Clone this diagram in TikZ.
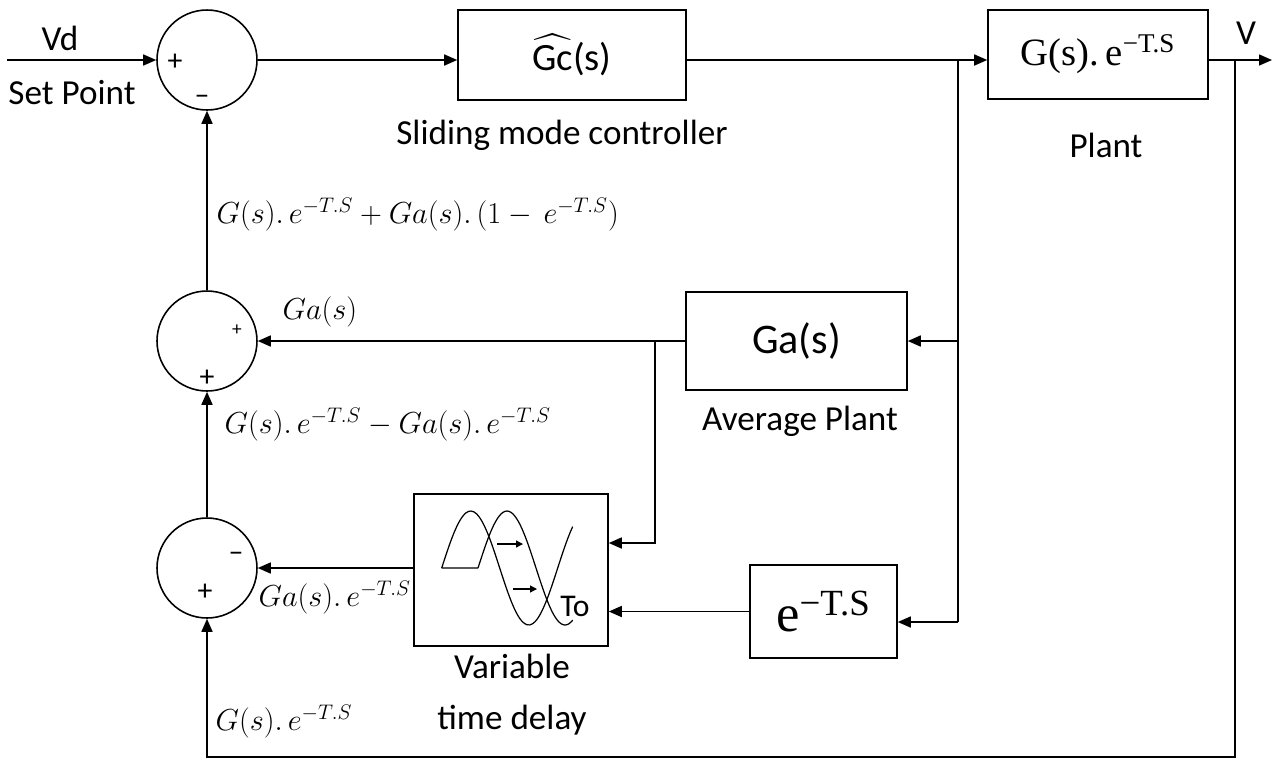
\documentclass[tikz,border=0pt]{standalone}
\usepackage{amsmath}
\usepackage{fontspec}
\setmainfont{Carlito}
\newfontfamily\serif{Liberation Serif}
\usetikzlibrary{arrows.meta}
\begin{document}
\begin{tikzpicture}[x=0.02cm,y=-0.02cm,line width=0.9pt,
    >={Triangle[length=0.26cm,width=0.22cm]},
    bloc/.style={draw,rectangle,inner sep=0pt},
    somme/.style={draw,circle,minimum size=2cm,inner sep=0pt},
    lbl/.style={font=\fontsize{20}{22}\selectfont},
    eq/.style={anchor=west,font=\fontsize{17}{19}\selectfont},
    sgn/.style={font=\fontsize{17}{19}\selectfont}]
    \useasboundingbox (0,0) rectangle (1277,762);
    % sommateurs
    \node[somme] (sumref) at (207,60) {};
    \node[somme] (sumavg) at (207,341) {};
    \node[somme] (sumdel) at (207,568) {};
    % blocs
    \node[bloc,minimum width=4.56cm,minimum height=1.8cm] (gc) at (572,55)
        {\fontsize{22}{24}\selectfont$\widehat{\mbox{Gc}}$(s)};
    \node[bloc,minimum width=4.4cm,minimum height=1.78cm] (plant) at (1098,54.5)
        {\fontsize{22}{24}\selectfont\serif G(s).\,e$^{\text{\serif −T.S}}$};
    \node[bloc,minimum width=4.42cm,minimum height=1.96cm] (ga) at (796.5,341)
        {\fontsize{24}{26}\selectfont Ga(s)};
    \node[bloc,minimum width=3.88cm,minimum height=3.04cm] (delay) at (511,570) {};
    \node[bloc,minimum width=2.94cm,minimum height=1.86cm] (expo) at (823.5,611.5)
        {\fontsize{30}{32}\selectfont\serif e$^{\text{\serif −T.S}}$};
    % points de branchement
    \coordinate (in) at (7,60);
    \coordinate (br1) at (958,60);
    \coordinate (br2) at (958,622);
    \coordinate (vout) at (1235,60);
    \coordinate (out) at (1272,60);
    \coordinate (cb) at (1235,757);
    \coordinate (cc) at (207,757);
    \coordinate (br3) at (655,341);
    \coordinate (br4) at (655,543);
    % liaisons
    \draw[->] (in) -- (sumref.west);
    \draw[->] (sumref.east) -- (gc.west |- sumref.east);
    \draw[->] (gc.east |- br1) -- (plant.west |- br1);
    \draw[->] (plant.east |- vout) -- (out);
    \draw (br1) -- (br2);
    \draw[->] (br1 |- ga.east) -- (ga.east);
    \draw[->] (br2) -- (br2 -| expo.east);
    \draw[->] (ga.west) -- (sumavg.east);
    \draw[->] (br3) -- (br4) -- (br4 -| delay.east);
    \draw[->] (expo.west) -- (expo.west -| delay.east);
    \draw[->] (delay.west |- sumdel.east) -- (sumdel.east);
    \draw[->] (vout) -- (cb) -- (cc) -- (sumdel.south);
    \draw[->] (sumdel.north) -- (sumavg.south);
    \draw[->] (sumavg.north) -- (sumref.south);
    % icone du retard variable
    \begin{scope}[line width=0.7pt]
        \draw plot[domain=441.7:572.7,smooth,samples=50] (\x,{568-57*sin((\x-441.7)/116*360)});
        \draw (441.7,568) -- (478,568)
            plot[domain=478:572.7,smooth,samples=50] (\x,{568-57*sin((\x-478)/116*360)});
        \draw[->,>={Triangle[length=0.14cm,width=0.14cm]}] (497,544) -- (523,544);
        \draw[->,>={Triangle[length=0.14cm,width=0.14cm]}] (513,589) -- (537,589);
    \end{scope}
    \node[font=\fontsize{18}{20}\selectfont] (to) at (575,606) {To};
    % signes
    \node[sgn] (p1) at (175,62) {+};
    \node[sgn] (m1) at (202,100) {--};
    \node[font=\fontsize{11}{12}\selectfont] (p2) at (237,330) {+};
    \node[sgn] (p3) at (207,378) {+};
    \node[sgn] (m2) at (236,557) {--};
    \node[sgn] (p4) at (205,592) {+};
    % textes
    \node[lbl] (vd) at (60,38) {Vd};
    \node[lbl] (sp) at (72,93) {Set Point};
    \node[lbl] (v) at (1246,33) {V};
    \node[lbl] (smc) at (562,135) {Sliding mode controller};
    \node[lbl] (pl) at (1106,145) {Plant};
    \node[lbl] (avg) at (800,421) {Average Plant};
    \node[lbl] (var) at (512,666) {Variable};
    \node[lbl] (td) at (512,720) {time delay};
    \node[eq] (e1) at (210,215) {$G(s).\,e^{-T.S}+Ga(s).\,(1-\,e^{-T.S})$};
    \node[eq] (e2) at (276,312) {$Ga(s)$};
    \node[eq] (e3) at (218,425) {$G(s).\,e^{-T.S}-Ga(s).\,e^{-T.S}$};
    \node[eq] (e4) at (252,598) {$Ga(s).\,e^{-T.S}$};
    \node[eq] (e5) at (209,722) {$G(s).\,e^{-T.S}$};
\end{tikzpicture}
\end{document}
